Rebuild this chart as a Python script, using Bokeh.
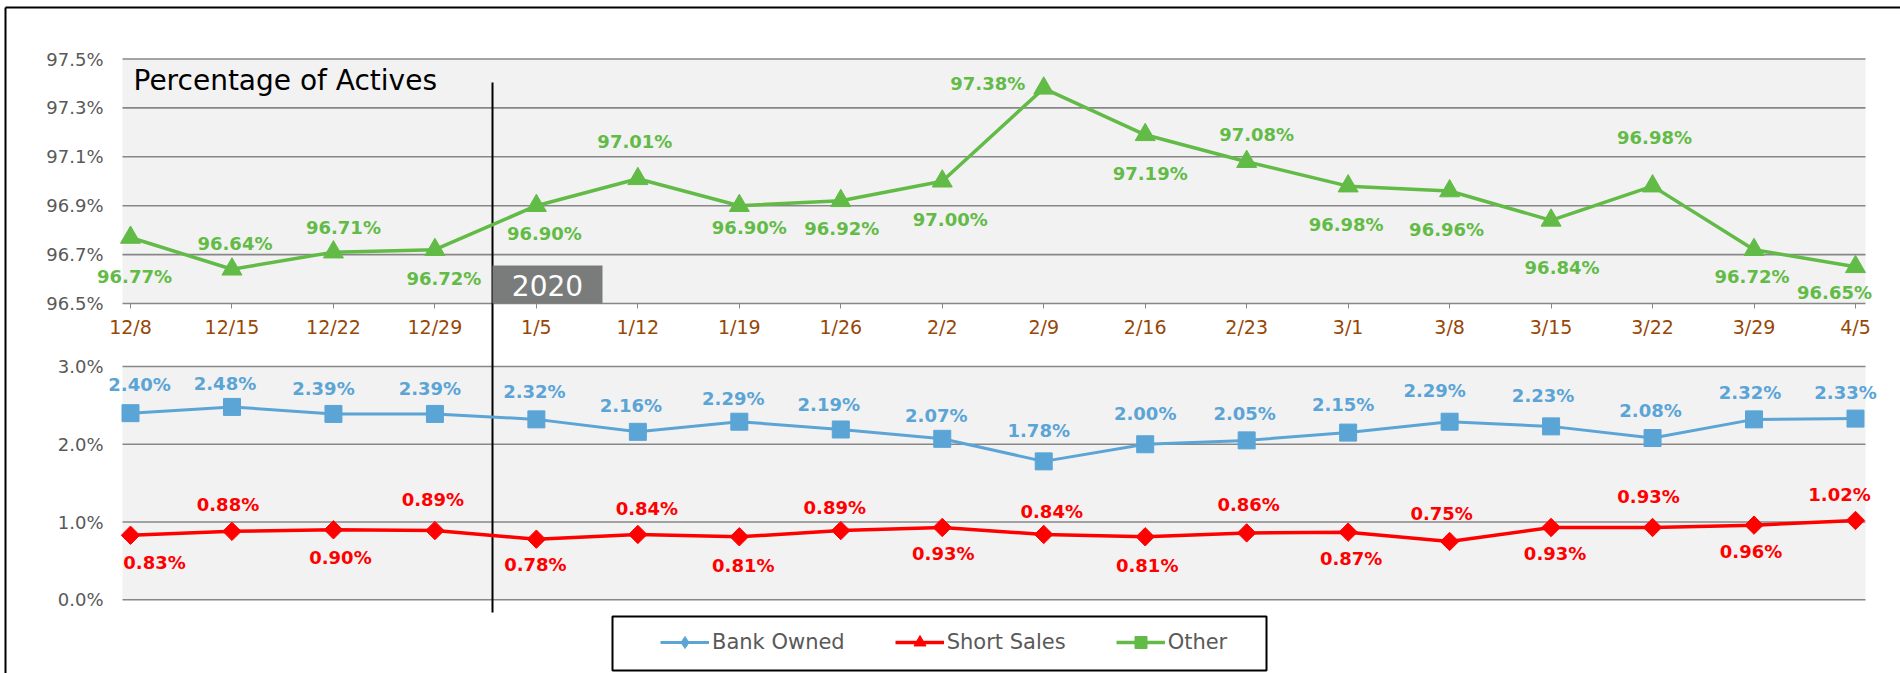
import numpy as np
from bokeh.plotting import figure
from bokeh.models import (Range1d, LinearAxis, FixedTicker, PrintfTickFormatter,
                          CustomJSTickFormatter, Legend, LegendItem, ColumnDataSource)
from bokeh.core.properties import value
from bokeh.embed import file_html
from bokeh.resources import INLINE

# ---------------- data ----------------
dates = ["12/8", "12/15", "12/22", "12/29", "1/5", "1/12", "1/19", "1/26", "2/2",
         "2/9", "2/16", "2/23", "3/1", "3/8", "3/15", "3/22", "3/29", "4/5"]
other = [96.77, 96.64, 96.71, 96.72, 96.90, 97.01, 96.90, 96.92, 97.00,
         97.38, 97.19, 97.08, 96.98, 96.96, 96.84, 96.98, 96.72, 96.65]
bank_owned = [2.40, 2.48, 2.39, 2.39, 2.32, 2.16, 2.29, 2.19, 2.07,
              1.78, 2.00, 2.05, 2.15, 2.29, 2.23, 2.08, 2.32, 2.33]
short_sales = [0.83, 0.88, 0.90, 0.89, 0.78, 0.84, 0.81, 0.89, 0.93,
               0.84, 0.81, 0.86, 0.87, 0.75, 0.93, 0.93, 0.96, 1.02]
top_ticks = [96.5, 96.7, 96.9, 97.1, 97.3, 97.5]
low_ticks = [0.0, 1.0, 2.0, 3.0]
year_label = "2020"
panel_title = "Percentage of Actives"
series_names = ["Bank Owned", "Short Sales", "Other"]

# ---------------- label placement (pixels, + = right / down) ----------------
other_dx = [4, 3, 10, 9, 8, -3, 10, 1, 8, -56, 5, 10, -2, -3, 11, 2, -2, -21]
other_dy = [39, -26, -25, 29, 28, -37, 22, 28, 38, -5, 39, -27, 38, 38, 47, -49, 27, 26]
bank_dx = [9, -7, -10, -5, -2, -7, -6, -12, -6, -5, 0, -2, -5, -15, -8, -2, -4, -10]
bank_dy = [-29, -23, -25, -25, -28, -26, -23, -25, -23, -31, -31, -27, -28, -31, -31, -28, -27, -26]
short_dx = [24, -4, 7, -2, -1, 9, 4, -6, 1, 8, 2, 2, 3, -8, 4, -4, -3, -16]
short_dy = [27, -27, 28, -31, 25, -26, 29, -23, 26, -23, 29, -28, 26, -28, 26, -31, 26, -26]

# ---------------- styles ----------------
FONT = "DejaVu Sans"
BLUE = "#5BA4D6"
RED = "#FF0000"
GREEN = "#62BB46"
PANEL_BG = "#F2F2F2"
GRID = "#878787"
YLAB = "#595959"
XLAB = "#974706"

# ---------------- layout (canvas pixels) ----------------
W, H = 1900, 673
CAT0_PX, PITCH = 130.0, 101.47          # first category centre, category pitch
TOP_PX = (58.5, 303.0)                  # rows of top panel max / min tick
LOW_PX = (366.0, 599.3)                 # rows of lower panel max / min tick

tmax, tmin = max(top_ticks), min(top_ticks)
upp_t = (tmax - tmin) / (TOP_PX[1] - TOP_PX[0])
lmax, lmin = max(low_ticks), min(low_ticks)
upp_l = (lmax - lmin) / (LOW_PX[1] - LOW_PX[0])

x_range = Range1d(-CAT0_PX / PITCH, (W - CAT0_PX) / PITCH)
top_range = Range1d(tmax - (H - TOP_PX[0]) * upp_t, tmax + TOP_PX[0] * upp_t)
low_range = Range1d(lmax - (H - LOW_PX[0]) * upp_l, lmax + LOW_PX[0] * upp_l)


def fx(px):
    return -CAT0_PX / PITCH + px / PITCH


def fy(py):
    return tmax + TOP_PX[0] * upp_t - py * upp_t


PL, PR = fx(122), fx(1865)
DIV_X = fx(492)

idx = list(range(len(dates)))

p = figure(width=W, height=H, x_range=x_range, y_range=top_range,
           output_backend="svg", toolbar_location=None, min_border=0,
           x_axis_type=None, y_axis_type=None, outline_line_color=None,
           background_fill_color="white", border_fill_color="white")
p.extra_y_ranges = {"low": low_range}

# panel backgrounds
p.quad(left=PL, right=PR, bottom=tmin, top=tmax, fill_color=PANEL_BG, line_color=None)
p.quad(left=PL, right=PR, bottom=lmin, top=lmax, fill_color=PANEL_BG, line_color=None,
       y_range_name="low")

# grid lines
p.segment(x0=PL, x1=PR, y0=top_ticks, y1=top_ticks, line_color=GRID, line_width=1.6)
p.segment(x0=PL, x1=PR, y0=low_ticks, y1=low_ticks, line_color=GRID, line_width=1.6,
          y_range_name="low")

# outer frame lines (left & top)
p.segment(x0=[fx(5), fx(5)], x1=[fx(5), x_range.end],
          y0=[fy(7), fy(7)], y1=[top_range.start, fy(7)],
          line_color="black", line_width=2)

# year divider and tag
p.segment(x0=DIV_X, x1=DIV_X, y0=fy(82), y1=fy(612), line_color="black", line_width=2)
p.quad(left=DIV_X, right=fx(602), bottom=tmin, top=fy(265), fill_color="#7A7C7B",
       line_color=None)
p.text(x=[(DIV_X + fx(602)) / 2], y=[fy(285)], text=[year_label], text_color="white",
       text_font=value(FONT), text_font_size="28px", text_align="center",
       text_baseline="middle")

# panel title
p.text(x=[fx(133)], y=[fy(80)], text=[panel_title], text_color="black",
       text_font=value(FONT), text_font_size="28px", text_align="left",
       text_baseline="middle")

# ---------------- series ----------------
g_line = p.line(idx, other, line_color=GREEN, line_width=3.5)
p.scatter(idx, other, marker="triangle", size=20, fill_color=GREEN, line_color=GREEN)

b_line = p.line(idx, bank_owned, line_color=BLUE, line_width=3, y_range_name="low")
p.scatter(idx, bank_owned, marker="square", size=17, fill_color=BLUE, line_color=BLUE,
          y_range_name="low")

r_line = p.line(idx, short_sales, line_color=RED, line_width=3.5, y_range_name="low")
p.scatter(idx, short_sales, marker="square", angle=np.pi / 4, size=13, fill_color=RED,
          line_color=RED, y_range_name="low")

lab_kw = dict(text_font=value(FONT), text_font_style="bold", text_font_size="18px",
              text_align="center", text_baseline="middle")
p.text(x=idx, y=other, text=[f"{v:.2f}%" for v in other], x_offset=other_dx,
       y_offset=other_dy, text_color=GREEN, **lab_kw)
p.text(x=idx, y=bank_owned, text=[f"{v:.2f}%" for v in bank_owned], x_offset=bank_dx,
       y_offset=bank_dy, text_color=BLUE, y_range_name="low", **lab_kw)
p.text(x=idx, y=short_sales, text=[f"{v:.2f}%" for v in short_sales], x_offset=short_dx,
       y_offset=short_dy, text_color=RED, y_range_name="low", **lab_kw)

# ---------------- axes ----------------
ax_top = LinearAxis(ticker=FixedTicker(ticks=top_ticks),
                    formatter=PrintfTickFormatter(format="%.1f%%"), fixed_location=PL)
ax_low = LinearAxis(y_range_name="low", ticker=FixedTicker(ticks=low_ticks),
                    formatter=PrintfTickFormatter(format="%.1f%%"), fixed_location=PL)
for ax in (ax_top, ax_low):
    ax.axis_line_color = None
    ax.major_tick_line_color = None
    ax.minor_tick_line_color = None
    ax.major_tick_out = 0
    ax.major_tick_in = 0
    ax.major_label_standoff = 19
    ax.major_label_text_font = FONT
    ax.major_label_text_font_size = "18px"
    ax.major_label_text_color = YLAB
    p.add_layout(ax, "left")

ax_x = LinearAxis(ticker=FixedTicker(ticks=idx),
                  formatter=CustomJSTickFormatter(args=dict(labels=dates),
                                                  code="const i = Math.round(tick); return (labels[i] !== undefined) ? labels[i] : '';"),
                  fixed_location=tmin)
ax_x.axis_line_color = None
ax_x.major_tick_line_color = GRID
ax_x.major_tick_in = 0
ax_x.major_tick_out = 5
ax_x.minor_tick_line_color = None
ax_x.major_label_standoff = 7
ax_x.major_label_text_font = FONT
ax_x.major_label_text_font_size = "19px"
ax_x.major_label_text_color = XLAB
p.add_layout(ax_x, "below")

# ---------------- legend ----------------
nan_src = ColumnDataSource(dict(x=[np.nan], y=[np.nan]))
leg_b = p.scatter("x", "y", source=nan_src, marker="diamond", size=17, fill_color=BLUE,
                  line_color=BLUE)
leg_r = p.scatter("x", "y", source=nan_src, marker="triangle", size=15, fill_color=RED,
                  line_color=RED)
leg_g = p.scatter("x", "y", source=nan_src, marker="square", size=12, fill_color=GREEN,
                  line_color=GREEN)

legend = Legend(items=[LegendItem(label=series_names[0], renderers=[b_line, leg_b]),
                       LegendItem(label=series_names[1], renderers=[r_line, leg_r]),
                       LegendItem(label=series_names[2], renderers=[g_line, leg_g])],
                orientation="horizontal", location=(660, 16), padding=0, margin=0,
                spacing=50, glyph_width=49, glyph_height=30, label_height=20,
                label_standoff=3, border_line_color=None, background_fill_alpha=0,
                label_text_font=FONT, label_text_font_size="21px",
                label_text_color=YLAB)
p.add_layout(legend)

# legend frame
p.quad(left=fx(612), right=fx(1266), top=fy(616), bottom=fy(670), fill_color=None,
       line_color="black", line_width=2)

open("out.html", "w").write(file_html(p, INLINE))
